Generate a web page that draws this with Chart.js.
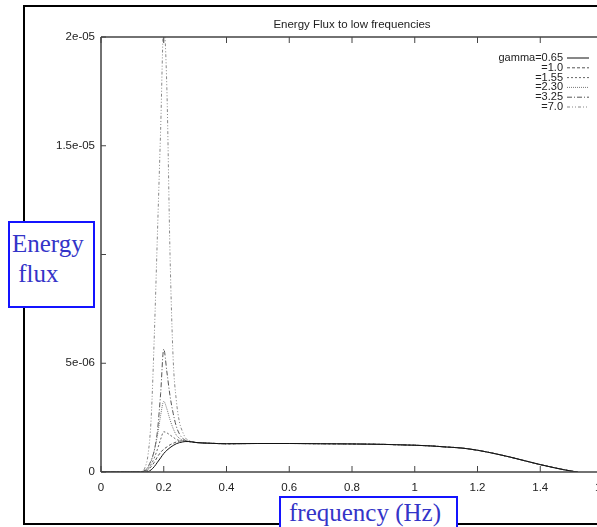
<!DOCTYPE html>
<html>
<head>
<meta charset="utf-8">
<script src="https://cdn.jsdelivr.net/npm/chart.js@4/dist/chart.umd.min.js"></script>
<style>
  html, body { margin:0; padding:0; background:#fff; overflow:hidden; }
  #wrap { position:relative; width:597px; height:527px; overflow:hidden; background:#fff; }
  #frame { position:absolute; left:23px; top:5px; width:640px; height:516px; border:2px solid #000; }
  #c { position:absolute; left:0; top:0; }
  .lbl { position:absolute; background:#fff; border:2px solid #1414ff; color:#3434c8;
         font-family:"Liberation Serif","DejaVu Serif",serif; font-size:25px; line-height:30px; box-sizing:border-box; }
  #ylab { left:8px; top:221px; width:87px; height:87px; padding:6px 0 0 2px; }
  #xlab { left:279px; top:496px; width:179px; height:40px; padding:0 0 0 8px; line-height:30px; }
</style>
</head>
<body>
<div id="wrap">
  <div id="frame"></div>
  <canvas id="c" width="640" height="527"></canvas>
  <div class="lbl" id="ylab">Energy<br>&nbsp;flux</div>
  <div class="lbl" id="xlab">frequency (Hz)</div>
</div>
<script>
// ---- data (flux values in units of 1e-6) ----
const freq = [0, 0.1, 0.13, 0.14, 0.15, 0.16, 0.17, 0.18, 0.19, 0.2, 0.21, 0.22, 0.23, 0.24, 0.25, 0.26, 0.27, 0.28,
              0.3, 0.35, 0.4, 0.5, 0.6, 0.7, 0.8, 0.9, 1.0, 1.05, 1.1, 1.15, 1.2, 1.25, 1.3, 1.35, 1.4, 1.45, 1.5, 1.52];
const tail = [1.36, 1.32, 1.3, 1.31, 1.31, 1.3, 1.29, 1.27, 1.23, 1.2, 1.15, 1.1, 1.0, 0.86, 0.7, 0.52, 0.34, 0.18, 0.04, 0];
const g065 = [0, 0, 0, 0, 0.02, 0.1, 0.25, 0.45, 0.65, 0.85, 1.0, 1.12, 1.22, 1.3, 1.35, 1.38, 1.4, 1.4].concat(tail);
const g100 = [0, 0, 0, 0.02, 0.1, 0.25, 0.45, 0.7, 0.9, 1.05, 1.15, 1.25, 1.32, 1.38, 1.42, 1.43, 1.42, 1.4].concat(tail);
const g155 = [0, 0, 0, 0.05, 0.15, 0.35, 0.65, 1.05, 1.5, 1.85, 1.8, 1.7, 1.6, 1.5, 1.45, 1.43, 1.42, 1.4].concat(tail);
const g230 = [0, 0, 0, 0.05, 0.2, 0.5, 1.0, 1.7, 2.6, 3.25, 2.9, 2.4, 2.0, 1.7, 1.55, 1.47, 1.43, 1.41].concat(tail);
const g325 = [0, 0, 0.02, 0.08, 0.25, 0.55, 1.0, 1.9, 3.6, 5.65, 4.6, 3.5, 2.7, 2.1, 1.75, 1.55, 1.45, 1.42].concat(tail);
const g700 = [0, 0, 0, 0.2, 0.8, 2.5, 6.3, 11, 15.7, 20.5, 17.6, 10, 5.2, 3.3, 2.3, 1.85, 1.55, 1.45].concat(tail);

const seriesLabels = ['gamma=0.65', '=1.0', '=1.55', '=2.30', '=3.25', '=7.0'];
const xTickValues = [0, 0.2, 0.4, 0.6, 0.8, 1.0, 1.2, 1.4, 1.6];
const xTickLabels = ['0', '0.2', '0.4', '0.6', '0.8', '1', '1.2', '1.4', '1.6'];
const yTickValues = [0, 5, 10, 15, 20];
const yTickLabels = ['0', '5e-06', '1e-05', '1.5e-05', '2e-05'];
const titleText = 'Energy Flux to low frequencies';

// ---- styles ----
const allSeries = [g065, g100, g155, g230, g325, g700];
const colors = ['#111111', '#555555', '#666666', '#777777', '#555555', '#888888'];
const dashes = [[], [3, 2], [2, 2], [1, 1], [5, 2, 1, 2], [3, 2, 1, 2, 1, 2]];
const FONT = '"Liberation Sans", Arial, Helvetica, sans-serif';

const datasets = allSeries.map((vals, i) => ({
  label: seriesLabels[i],
  data: freq.map((f, j) => ({ x: f, y: vals[j] })),
  borderColor: colors[i],
  borderWidth: 1,
  borderDash: dashes[i],
  pointRadius: 0,
  fill: false,
  tension: 0,
  cubicInterpolationMode: 'monotone'
}));

const framePlugin = {
  id: 'frame',
  afterDraw(chart) {
    const { ctx, chartArea: a, scales } = chart;
    ctx.save();
    ctx.strokeStyle = '#444';
    ctx.lineWidth = 1.5;
    ctx.setLineDash([]);
    ctx.beginPath();
    ctx.moveTo(a.left, a.top); ctx.lineTo(a.left, a.bottom);
    ctx.moveTo(a.left, a.bottom); ctx.lineTo(a.right, a.bottom);
    ctx.moveTo(a.left, a.top); ctx.lineTo(a.right, a.top);
    ctx.stroke();
    ctx.lineWidth = 1;
    ctx.beginPath();
    xTickValues.forEach(v => {
      const p = scales.x.getPixelForValue(v);
      ctx.moveTo(p, a.bottom); ctx.lineTo(p, a.bottom - 6);
      ctx.moveTo(p, a.top); ctx.lineTo(p, a.top + 6);
    });
    yTickValues.forEach(v => {
      const p = scales.y.getPixelForValue(v);
      ctx.moveTo(a.left, p); ctx.lineTo(a.left + 5, p);
    });
    ctx.stroke();
    // title
    ctx.fillStyle = '#222';
    ctx.font = '11.5px ' + FONT;
    ctx.textAlign = 'center';
    ctx.textBaseline = 'middle';
    ctx.fillText(titleText, (a.left + a.right) / 2, 25);
    // legend
    ctx.font = '11px ' + FONT;
    ctx.textAlign = 'right';
    chart.data.datasets.forEach((ds, i) => {
      const y = a.top + 21 + i * 9.8;
      ctx.fillStyle = '#222';
      ctx.fillText(ds.label, a.right - 40, y);
      ctx.strokeStyle = ds.borderColor;
      ctx.setLineDash(ds.borderDash);
      ctx.beginPath();
      ctx.moveTo(a.right - 36, y); ctx.lineTo(a.right - 14, y);
      ctx.stroke();
    });
    ctx.restore();
  }
};

new Chart(document.getElementById('c'), {
  type: 'line',
  data: { datasets },
  plugins: [framePlugin],
  options: {
    responsive: false,
    animation: false,
    devicePixelRatio: 1,
    layout: { padding: { top: 37, right: 37, left: 0, bottom: 0 } },
    plugins: { legend: { display: false }, title: { display: false }, tooltip: { enabled: false } },
    scales: {
      x: {
        type: 'linear', min: 0, max: 1.6,
        afterBuildTicks: s => { s.ticks = xTickValues.map(v => ({ value: v })); },
        afterFit: s => { s.height = 55; },
        grid: { display: false, drawTicks: false },
        border: { display: false },
        ticks: { callback: (v, i) => xTickLabels[i], color: '#222', padding: 9,
                 maxRotation: 0, autoSkip: false, font: { family: FONT, size: 11.5 } }
      },
      y: {
        type: 'linear', min: 0, max: 20,
        afterBuildTicks: s => { s.ticks = yTickValues.map(v => ({ value: v })); },
        afterFit: s => { s.width = 101; },
        grid: { display: false, drawTicks: false },
        border: { display: false },
        ticks: { callback: (v, i) => yTickLabels[i], color: '#222', padding: 6,
                 font: { family: FONT, size: 11.5 } }
      }
    }
  }
});
</script>
</body>
</html>
